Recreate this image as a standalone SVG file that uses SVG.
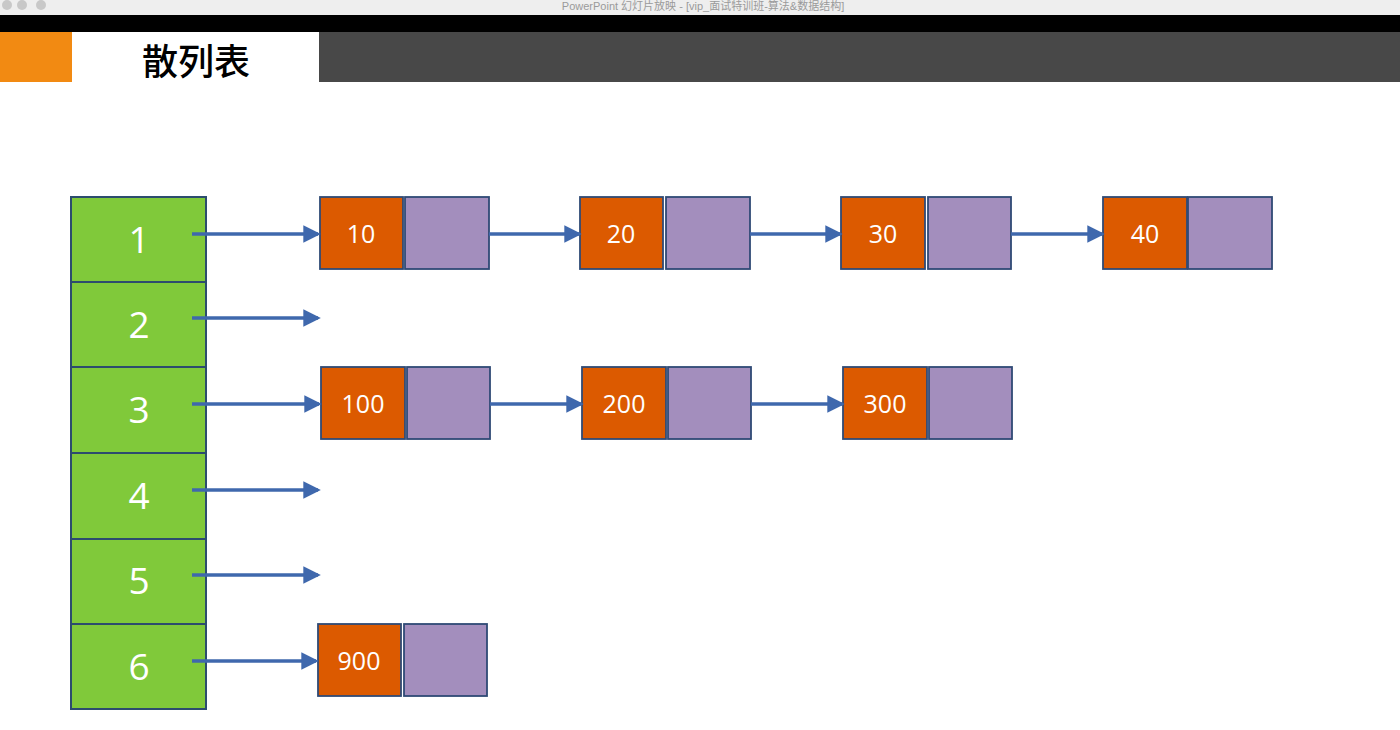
<svg xmlns="http://www.w3.org/2000/svg" width="1400" height="730" viewBox="0 0 1400 730">
<style>
.cell{fill:#80c93a;stroke:#2c4c6e;stroke-width:2}
.key{fill:#dc5a00;stroke:#2f4a75;stroke-width:1.8}
.ptr{fill:#a38ebd;stroke:#2f4a75;stroke-width:1.8}
.idx{font-family:"Open Sans","Liberation Sans",sans-serif;font-size:37px;fill:#ffffff;text-anchor:middle}
.val{font-family:"Open Sans","Liberation Sans",sans-serif;font-size:25px;fill:#ffffff;text-anchor:middle}
.conn line{stroke:#3f68ad;stroke-width:3.5;marker-end:url(#ah)}
</style>
<defs>
<marker id="ah" markerWidth="5" markerHeight="5" refX="4.2" refY="2.5" orient="auto" markerUnits="strokeWidth">
<path d="M0,0 L5,2.5 L0,5 z" fill="#3f68ad"/>
</marker>
</defs>
<rect x="0" y="0" width="1400" height="730" fill="#ffffff"/>
<!-- window chrome -->
<rect x="0" y="0" width="1400" height="15" fill="#eeeeee"/>
<circle cx="7" cy="5" r="5" fill="#c8c8c8"/>
<circle cx="22" cy="5" r="5" fill="#c8c8c8"/>
<circle cx="41" cy="5" r="5" fill="#c8c8c8"/>
<text x="703" y="10" font-family="Liberation Sans,'Noto Sans CJK SC',sans-serif" font-size="11" fill="#9a9a9a" text-anchor="middle">PowerPoint 幻灯片放映 - [vip_面试特训班-算法&amp;数据结构]</text>
<rect x="0" y="15" width="1400" height="17" fill="#000000"/>
<rect x="0" y="32" width="72" height="50" fill="#f28a12"/>
<rect x="72" y="32" width="247" height="50" fill="#ffffff"/>
<rect x="319" y="32" width="1081" height="50" fill="#484848"/>
<text x="196" y="75" font-family="'Noto Sans CJK SC',sans-serif" font-size="36" font-weight="500" fill="#000000" text-anchor="middle">散列表</text>

<!-- hash table -->
<g id="table">
<g id="slot1"><rect class="cell" x="71" y="197" width="135" height="85"/><text class="idx" x="139" y="253">1</text></g>
<g id="slot2"><rect class="cell" x="71" y="282" width="135" height="85"/><text class="idx" x="139" y="338">2</text></g>
<g id="slot3"><rect class="cell" x="71" y="367" width="135" height="86"/><text class="idx" x="139" y="423">3</text></g>
<g id="slot4"><rect class="cell" x="71" y="453" width="135" height="86"/><text class="idx" x="139" y="509">4</text></g>
<g id="slot5"><rect class="cell" x="71" y="539" width="135" height="85"/><text class="idx" x="139" y="594">5</text></g>
<g id="slot6"><rect class="cell" x="71" y="624" width="135" height="85"/><text class="idx" x="139" y="680">6</text></g>
</g>

<!-- list nodes -->
<g id="n10"><rect class="key" x="320" y="197" width="83" height="72"/><rect class="ptr" x="405" y="197" width="84" height="72"/><text class="val" x="361" y="243">10</text></g>
<g id="n20"><rect class="key" x="580" y="197" width="83" height="72"/><rect class="ptr" x="666" y="197" width="84" height="72"/><text class="val" x="621" y="243">20</text></g>
<g id="n30"><rect class="key" x="841" y="197" width="84" height="72"/><rect class="ptr" x="928" y="197" width="83" height="72"/><text class="val" x="883" y="243">30</text></g>
<g id="n40"><rect class="key" x="1103" y="197" width="84" height="72"/><rect class="ptr" x="1188" y="197" width="84" height="72"/><text class="val" x="1145" y="243">40</text></g>

<g id="n100"><rect class="key" x="321" y="367" width="84" height="72"/><rect class="ptr" x="407" y="367" width="83" height="72"/><text class="val" x="363" y="413">100</text></g>
<g id="n200"><rect class="key" x="582" y="367" width="84" height="72"/><rect class="ptr" x="668" y="367" width="83" height="72"/><text class="val" x="624" y="413">200</text></g>
<g id="n300"><rect class="key" x="843" y="367" width="84" height="72"/><rect class="ptr" x="929" y="367" width="83" height="72"/><text class="val" x="885" y="413">300</text></g>

<g id="n900"><rect class="key" x="318" y="624" width="83" height="72"/><rect class="ptr" x="404" y="624" width="83" height="72"/><text class="val" x="359" y="670">900</text></g>

<!-- connectors -->
<g id="connectors" class="conn">
<line x1="192" y1="234" x2="318" y2="234"/>
<line x1="192" y1="318" x2="318" y2="318"/>
<line x1="192" y1="404" x2="319" y2="404"/>
<line x1="192" y1="490" x2="318" y2="490"/>
<line x1="192" y1="575" x2="318" y2="575"/>
<line x1="192" y1="661" x2="316" y2="661"/>
<line x1="489" y1="234" x2="579" y2="234"/>
<line x1="750" y1="234" x2="840" y2="234"/>
<line x1="1011" y1="234" x2="1102" y2="234"/>
<line x1="490" y1="404" x2="581" y2="404"/>
<line x1="751" y1="404" x2="842" y2="404"/>
</g>
</svg>
